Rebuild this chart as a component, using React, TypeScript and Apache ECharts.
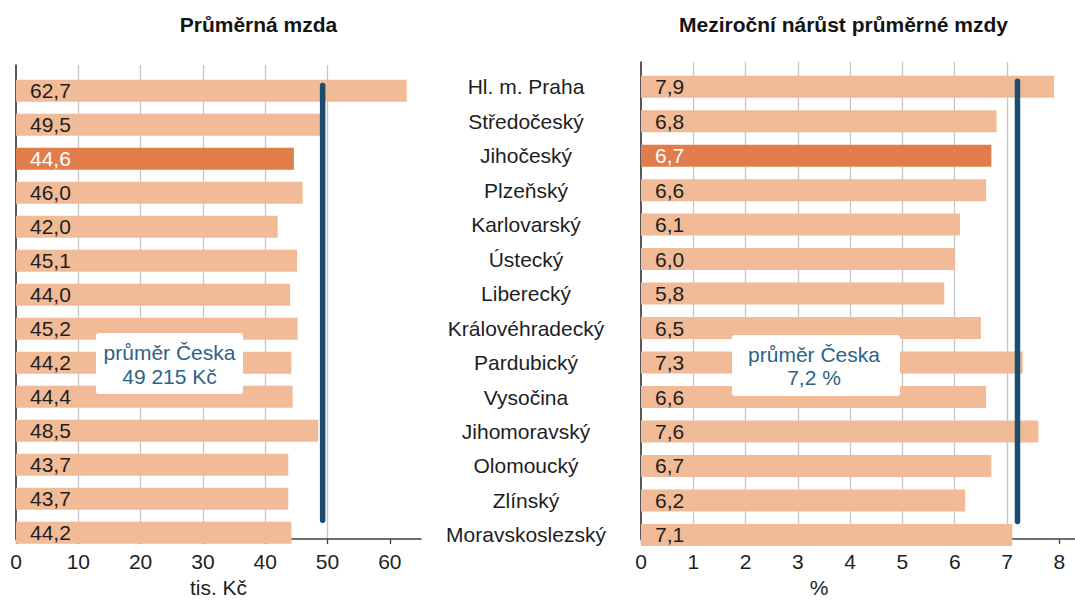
import React, { useEffect, useRef } from 'react';
import * as echarts from 'echarts';

const regions = [
  'Hl. m. Praha', 'Středočeský', 'Jihočeský', 'Plzeňský', 'Karlovarský', 'Ústecký', 'Liberecký',
  'Královéhradecký', 'Pardubický', 'Vysočina', 'Jihomoravský', 'Olomoucký', 'Zlínský', 'Moravskoslezský',
];
// průměrná mzda, tis. Kč
const avgWage = [62.7, 49.5, 44.6, 46.0, 42.0, 45.1, 44.0, 45.2, 44.2, 44.4, 48.5, 43.7, 43.7, 44.2];
// meziroční nárůst, %
const wageGrowth = [7.9, 6.8, 6.7, 6.6, 6.1, 6.0, 5.8, 6.5, 7.3, 6.6, 7.6, 6.7, 6.2, 7.1];
const highlightRegion = 'Jihočeský';
const czAvgWageKc = 49215;
const czAvgGrowth = 7.2;
const wageTicks = [0, 10, 20, 30, 40, 50, 60];
const growthTicks = [0, 1, 2, 3, 4, 5, 6, 7, 8];

const FONT = "'Liberation Sans', Arial, sans-serif";
const LIGHT = '#F1BB97';
const DARK = '#E07D4A';
const BLUE = '#1B4D6F';
const NOTE = '#2C6387';
const TEXT = '#1e1e1e';

const fmt1 = (v: number) => v.toFixed(1).replace('.', ',');
const fmtThousands = (v: number) => String(v).replace(/\B(?=(\d{3})+(?!\d))/g, ' ');

function barSeries(values: number[], xi: number, yi: number) {
  return {
    type: 'bar',
    xAxisIndex: xi,
    yAxisIndex: yi,
    barWidth: 22,
    itemStyle: { color: LIGHT },
    label: {
      show: true,
      position: 'insideLeft',
      distance: 14,
      color: TEXT,
      fontSize: 21,
      fontFamily: FONT,
      formatter: (p: any) => fmt1(p.value),
    },
    data: values.map((v, i) =>
      regions[i] === highlightRegion
        ? { value: v, itemStyle: { color: DARK }, label: { color: '#ffffff' } }
        : v
    ),
    z: 2,
  };
}

function visibleX(grid: number, max: number, interval: number, ticks: number[], name: string, namePad: number[]) {
  return {
    gridIndex: grid,
    type: 'value',
    min: 0,
    max,
    interval,
    axisLine: { show: true, onZero: false, lineStyle: { color: '#404040', width: 1.5 } },
    axisTick: { show: true, length: 5, customValues: ticks, lineStyle: { color: '#404040', width: 1.3 } },
    axisLabel: {
      customValues: ticks,
      formatter: (v: number) => (ticks.includes(v) ? String(v) : ''),
      fontSize: 21,
      fontFamily: FONT,
      color: TEXT,
      margin: 12,
    },
    splitLine: { show: true, showMinLine: false, showMaxLine: false, lineStyle: { color: '#c6c6c6', width: 1.3 } },
    name,
    nameLocation: 'middle',
    nameGap: 36,
    nameTextStyle: { fontSize: 21, fontFamily: FONT, color: TEXT, padding: namePad },
  };
}

function visibleY(grid: number, min: number, max: number) {
  return {
    gridIndex: grid,
    type: 'value',
    inverse: true,
    min,
    max,
    axisLine: { show: true, onZero: false, lineStyle: { color: '#222222', width: 1.5 } },
    axisTick: { show: false },
    axisLabel: { show: false },
    splitLine: { show: false },
  };
}

function hiddenX(grid: number, max: number) {
  return {
    gridIndex: grid,
    type: 'value',
    min: 0,
    max,
    show: false,
    axisLine: { show: false, onZero: false },
    axisTick: { show: false },
    axisLabel: { show: false },
    splitLine: { show: false },
  };
}

function avgLine(value: number, xi: number, yi: number) {
  return {
    type: 'line',
    xAxisIndex: xi,
    yAxisIndex: yi,
    symbol: 'none',
    silent: true,
    lineStyle: { color: BLUE, width: 5.5, cap: 'round' },
    data: [
      [value, -0.15],
      [value, 12.8],
    ],
    z: 5,
  };
}

export default function App() {
  const ref = useRef<HTMLDivElement>(null);
  useEffect(() => {
    if (!ref.current) return;
    const chart = echarts.init(ref.current, undefined, { renderer: 'svg' });
    const option: any = {
      animation: false,
      backgroundColor: '#ffffff',
      title: [
        {
          text: 'Průměrná mzda',
          left: 258.5,
          top: 14,
          padding: 0,
          textAlign: 'center',
          textStyle: { fontSize: 21, fontWeight: 'bold', fontFamily: FONT, color: '#141414' },
        },
        {
          text: 'Meziroční nárůst průměrné mzdy',
          left: 843.5,
          top: 14,
          padding: 0,
          textAlign: 'center',
          textStyle: { fontSize: 21, fontWeight: 'bold', fontFamily: FONT, color: '#141414' },
        },
      ],
      grid: [
        { left: 16, top: 65, width: 405, height: 480 },
        { left: 16, top: 73.8, width: 405, height: 476 },
        { left: 641, top: 62, width: 434, height: 484 },
        { left: 641, top: 69.46, width: 434, height: 482.7 },
      ],
      xAxis: [
        visibleX(0, 65, 10, wageTicks, 'tis. Kč', [0, 0, 0, 0]),
        hiddenX(1, 65),
        visibleX(2, 8.3, 1, growthTicks, '%', [0, 78, 0, 0]),
        hiddenX(3, 8.3),
      ],
      yAxis: [
        visibleY(0, -0.759, 13.359),
        {
          gridIndex: 1,
          type: 'category',
          inverse: true,
          data: regions,
          show: false,
          axisLine: { show: false, onZero: false },
          axisTick: { show: false },
          axisLabel: { show: false },
        },
        visibleY(2, -0.716, 13.321),
        {
          gridIndex: 3,
          type: 'category',
          inverse: true,
          data: regions,
          axisLine: { show: false, onZero: false },
          axisTick: { show: false },
          splitLine: { show: false },
          axisLabel: { align: 'center', margin: 115, fontSize: 21, fontFamily: FONT, color: TEXT },
        },
      ],
      series: [
        barSeries(avgWage, 1, 1),
        avgLine(czAvgWageKc / 1000, 0, 0),
        barSeries(wageGrowth, 3, 3),
        avgLine(czAvgGrowth, 2, 2),
      ],
      graphic: [
        { type: 'rect', shape: { x: 96, y: 333, width: 147, height: 61, r: 3 }, style: { fill: '#ffffff' }, z: 10 },
        {
          type: 'text',
          x: 169.5,
          y: 364,
          z: 11,
          style: {
            text: `průměr Česka\n${fmtThousands(czAvgWageKc)} Kč`,
            fill: NOTE,
            font: `21px ${FONT}`,
            fontSize: 21,
            fontFamily: FONT,
            align: 'center',
            textAlign: 'center',
            verticalAlign: 'middle',
            textVerticalAlign: 'middle',
            lineHeight: 24,
          },
        },
        { type: 'rect', shape: { x: 732, y: 335, width: 168, height: 61, r: 3 }, style: { fill: '#ffffff' }, z: 10 },
        {
          type: 'text',
          x: 814,
          y: 366,
          z: 11,
          style: {
            text: `průměr Česka\n${fmt1(czAvgGrowth)} %`,
            fill: NOTE,
            font: `21px ${FONT}`,
            fontSize: 21,
            fontFamily: FONT,
            align: 'center',
            textAlign: 'center',
            verticalAlign: 'middle',
            textVerticalAlign: 'middle',
            lineHeight: 23,
          },
        },
      ],
    };
    chart.setOption(option);
    return () => chart.dispose();
  }, []);
  return (
    <div
      ref={ref}
      style={{ position: 'absolute', left: 0, top: 0, width: 1075, height: 603, background: '#fff' }}
    />
  );
}
